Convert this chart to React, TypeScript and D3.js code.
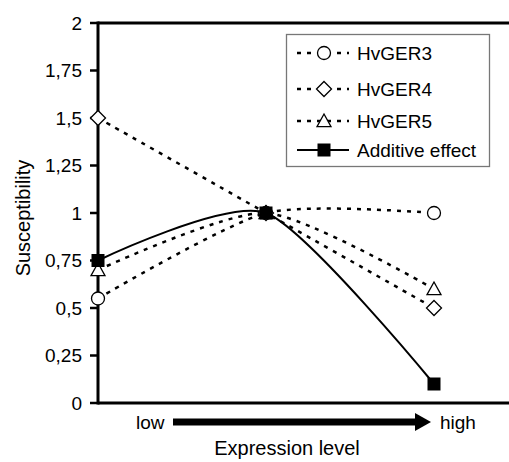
import React, { useEffect, useRef } from 'react';
import * as d3 from 'd3';

// expression level positions: low, middle, high
const levels = [0, 1, 2];
const hvger3 = [0.55, 1, 1];
const hvger4 = [1.5, 1, 0.5];
const hvger5 = [0.7, 1, 0.6];
const additive = [0.75, 1, 0.1];

const yTicks = [0, 0.25, 0.5, 0.75, 1, 1.25, 1.5, 1.75, 2];
const yTickLabels = ['0', '0,25', '0,5', '0,75', '1', '1,25', '1,5', '1,75', '2'];

const seriesNames = ['HvGER3', 'HvGER4', 'HvGER5', 'Additive effect'];

const App = () => {
  const ref = useRef<SVGSVGElement | null>(null);

  useEffect(() => {
    if (!ref.current) return;
    const svg = d3.select(ref.current);
    svg.selectAll('*').remove();

    const width = 509;
    const font = '"Liberation Sans", Arial, sans-serif';
    const fs = '19px';

    const x = d3.scaleLinear().domain([0, 2]).range([98, 434]);
    const y = d3.scaleLinear().domain([0, 2]).range([403, 23]);

    const g = svg.append('g');

    // frame lines (top + bottom), left axis
    g.append('line').attr('x1', x(0)).attr('x2', width).attr('y1', y(2)).attr('y2', y(2))
      .attr('stroke', '#000').attr('stroke-width', 3);
    g.append('line').attr('x1', x(0)).attr('x2', width).attr('y1', y(0)).attr('y2', y(0))
      .attr('stroke', '#000').attr('stroke-width', 3);
    g.append('line').attr('x1', x(0)).attr('x2', x(0)).attr('y1', y(2) - 1.5).attr('y2', y(0) + 1.5)
      .attr('stroke', '#000').attr('stroke-width', 3);

    yTicks.forEach((t, i) => {
      g.append('line').attr('x1', x(0) - 8).attr('x2', x(0)).attr('y1', y(t)).attr('y2', y(t))
        .attr('stroke', '#000').attr('stroke-width', 2.5);
      g.append('text').attr('x', x(0) - 16).attr('y', y(t)).attr('dy', '0.36em')
        .attr('text-anchor', 'end').style('font-family', font).style('font-size', fs)
        .text(yTickLabels[i]);
    });

    // y title
    g.append('text').attr('transform', `translate(30,218) rotate(-90)`)
      .attr('text-anchor', 'middle').style('font-family', font).style('font-size', '20px')
      .text('Susceptibility');

    // x axis annotation: low -> high arrow
    g.append('text').attr('x', 136).attr('y', 429).style('font-family', font).style('font-size', fs).text('low');
    g.append('text').attr('x', 440).attr('y', 429).style('font-family', font).style('font-size', fs).text('high');
    g.append('line').attr('x1', 173).attr('x2', 418).attr('y1', 422).attr('y2', 422)
      .attr('stroke', '#000').attr('stroke-width', 7);
    g.append('path').attr('d', 'M415,413 L431,422 L415,431 Z').attr('fill', '#000');
    g.append('text').attr('x', 287).attr('y', 455).attr('text-anchor', 'middle')
      .style('font-family', font).style('font-size', '20px').text('Expression level');

    const line = d3.line<number>()
      .x((d, i) => x(levels[i]))
      .y(d => y(d))
      .curve(d3.curveCardinal.tension(0.3));

    const dashed = [hvger3, hvger4, hvger5];
    dashed.forEach(s => {
      g.append('path').datum(s).attr('d', line).attr('fill', 'none')
        .attr('stroke', '#000').attr('stroke-width', 2.5).attr('stroke-dasharray', '4,6');
    });
    g.append('path').datum(additive).attr('d', line).attr('fill', 'none')
      .attr('stroke', '#000').attr('stroke-width', 2);

    const drawMarker = (sel: any, kind: number, cx: number, cy: number) => {
      if (kind === 0) {
        sel.append('circle').attr('cx', cx).attr('cy', cy).attr('r', 6.5)
          .attr('fill', '#fff').attr('stroke', '#000').attr('stroke-width', 1.3);
      } else if (kind === 1) {
        const r = 7.5;
        sel.append('path').attr('d', `M${cx},${cy - r} L${cx + r},${cy} L${cx},${cy + r} L${cx - r},${cy} Z`)
          .attr('fill', '#fff').attr('stroke', '#000').attr('stroke-width', 1.3);
      } else if (kind === 2) {
        const s = 7;
        sel.append('path').attr('d', `M${cx},${cy - s} L${cx + s},${cy + s * 0.8} L${cx - s},${cy + s * 0.8} Z`)
          .attr('fill', '#fff').attr('stroke', '#000').attr('stroke-width', 1.3);
      } else {
        sel.append('rect').attr('x', cx - 6.5).attr('y', cy - 6.5).attr('width', 13).attr('height', 13)
          .attr('fill', '#000');
      }
    };

    [hvger3, hvger4, hvger5, additive].forEach((s, k) => {
      s.forEach((v, i) => drawMarker(g, k, x(levels[i]), y(v)));
    });

    // legend
    const lg = g.append('g');
    lg.append('rect').attr('x', 286.5).attr('y', 34.5).attr('width', 203).attr('height', 132)
      .attr('fill', '#fff').attr('stroke', '#777').attr('stroke-width', 1.3);
    const rows = [53, 89, 121, 150];
    seriesNames.forEach((name, k) => {
      const ry = rows[k];
      const ln = lg.append('line').attr('x1', 297).attr('x2', 349).attr('y1', ry).attr('y2', ry)
        .attr('stroke', '#000').attr('stroke-width', k < 3 ? 2.5 : 2);
      if (k < 3) ln.attr('stroke-dasharray', '4,6');
      drawMarker(lg, k, 324, ry);
      lg.append('text').attr('x', 357).attr('y', ry).attr('dy', '0.36em')
        .style('font-family', font).style('font-size', fs).text(name);
    });
  }, []);

  return (
    <svg ref={ref} width={509} height={462}
      style={{ position: 'absolute', left: 0, top: 0, background: '#fff' }} />
  );
};

export default App;
